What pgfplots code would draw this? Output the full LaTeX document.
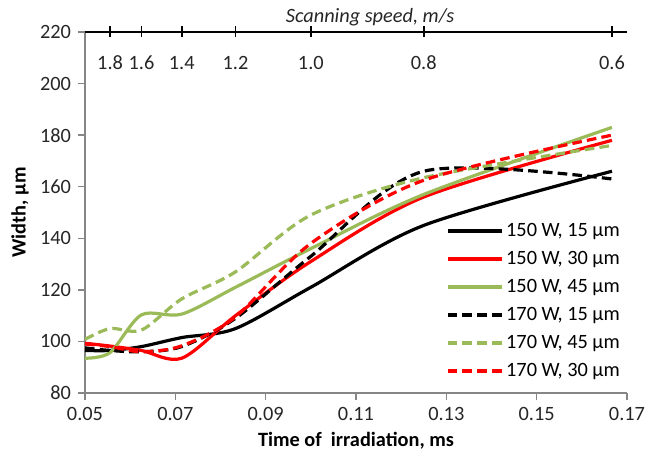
\documentclass[border=0pt]{standalone}
\usepackage{fontspec}
\setmainfont{Carlito}
\usepackage{pgfplots}
\pgfplotsset{compat=1.18}
\definecolor{exgreen}{HTML}{9BBB59}
\definecolor{exred}{HTML}{FF0000}
\definecolor{axgray}{HTML}{868686}

\pgfplotstableread{
x        b150s15 r150s30 g150s45 b170d15 g170d45 r170d30
0.05     96.5    99.3    93.5    97.5    100.8   99.0
0.055556 96.5    98.2    95.7    96.5    105.0   98.0
0.0625   98.0    96.5    110.3   96.0    104.4   96.0
0.071429 101.5   93.5    110.6   98.0    116.5   98.3
0.083333 105.0   110.0   121.0   109.0   127.0   109.5
0.1      121.0   131.0   136.0   133.0   149.0   138.0
0.125    145.0   156.0   157.0   166.0   163.5   162.5
0.166667 166.0   178.0   183.0   163.0   176.0   180.0
}\datatable

\begin{document}
\begin{tikzpicture}
\begin{axis}[name=ax, scale only axis, width=271bp, height=180.5bp,
  xmin=0.05, xmax=0.17, ymin=80, ymax=220,
  axis lines*=left, axis line style={axgray, line width=0.75bp},
  xtick={0.05,0.07,0.09,0.11,0.13,0.15,0.17},
  xticklabels={0.05,0.07,0.09,0.11,0.13,0.15,0.17},
  ytick={80,100,120,140,160,180,200,220},
  yticklabels={80,100,120,140,160,180,200,220},
  tick align=outside, major tick length=3.5bp,
  tick style={axgray, line width=0.75bp},
  font=\fontsize{10.2}{12}\selectfont,
  /pgf/number format/assume math mode=true,
  tick label style={black!85},
  every axis x label/.style={at={(rel axis cs:0.5,0)}, yshift=-24bp, anchor=center},
  every axis y label/.style={at={(rel axis cs:0,0.5)}, xshift=-32.5bp, anchor=center, rotate=90},
  xlabel={\textbf{Time of\ \ irradiation, ms}},
  ylabel={\textbf{Width, µm}},
  legend cell align=left,
  legend style={draw=none, fill=none, inner sep=0pt, outer sep=0pt,
    at={(rel axis cs:0.666,0.482)}, anchor=north west,
    row sep=2bp,
    nodes={inner sep=1.5bp, text height=7bp, text depth=2bp, font=\fontsize{10.2}{12}\selectfont}},
  legend image code/.code={\draw[#1, sharp plot] (0bp,0bp) -- (27bp,0bp);},
  every axis plot/.append style={smooth, line width=1.6bp},
]
\addplot[black] table[x=x, y=b150s15] {\datatable};
\addlegendentry{150 W, 15 µm}
\addplot[exred] table[x=x, y=r150s30] {\datatable};
\addlegendentry{150 W, 30 µm}
\addplot[exgreen] table[x=x, y=g150s45] {\datatable};
\addlegendentry{150 W, 45 µm}
\addplot[black, dash pattern=on 4.8bp off 2.6bp] table[x=x, y=b170d15] {\datatable};
\addlegendentry{170 W, 15 µm}
\addplot[exgreen, dash pattern=on 4.8bp off 2.6bp] table[x=x, y=g170d45] {\datatable};
\addlegendentry{170 W, 45 µm}
\addplot[exred, dash pattern=on 4.8bp off 2.6bp] table[x=x, y=r170d30] {\datatable};
\addlegendentry{170 W, 30 µm}
\end{axis}
\begin{axis}[scale only axis, width=271bp, height=180.5bp,
  xmin=0.05, xmax=0.17, ymin=80, ymax=220, clip=false,
  axis x line*=top, axis y line=none,
  axis line style={black, line width=1bp},
  xtick={0.055556,0.0625,0.071429,0.083333,0.1,0.125,0.166667},
  xticklabels={1.8,1.6,1.4,1.2,1.0,0.8,0.6},
  tick align=center, major tick length=5.5bp,
  tick style={black, line width=0.9bp},
  font=\fontsize{10.2}{12}\selectfont,
  xticklabel style={anchor=base, yshift=-21.5bp, black!85},
]
\addplot[draw=none] coordinates {(0.1,150)};
\node[anchor=base, font=\fontsize{10.2}{12}\selectfont\itshape, black!85, yshift=4.5bp] at (rel axis cs:0.526,1) {Scanning speed, m/s};
\end{axis}
\pgfresetboundingbox
\path ([shift={(-42.5bp,-31.5bp)}]ax.south west) rectangle ([shift={(11bp,16bp)}]ax.north east);
\end{tikzpicture}
\end{document}
